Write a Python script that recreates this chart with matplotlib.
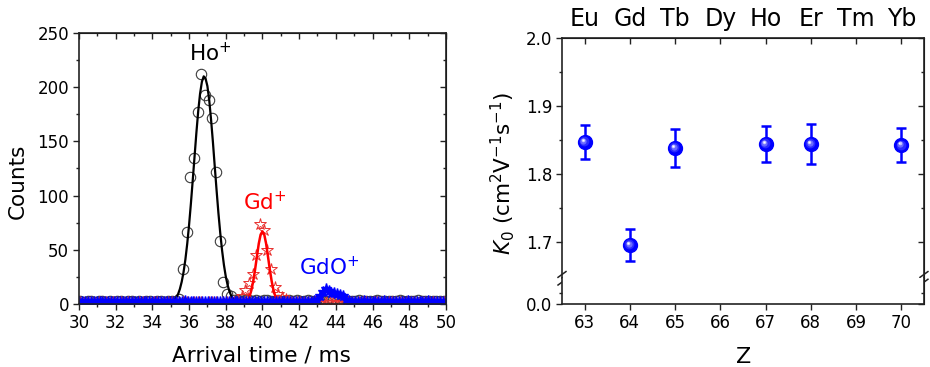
"""
Arrival time distributions (left) and reduced mobilities of lanthanide ions (right).
"""

import numpy as np
import matplotlib
matplotlib.use('Agg')
import matplotlib.pyplot as plt
from matplotlib.ticker import MultipleLocator, FixedLocator, FormatStrFormatter
from matplotlib.transforms import offset_copy

# ---- left panel data: arrival time spectra ----
# time bins of the Ho+ / Gd+ spectra (ms)
t_bins = np.round(30.07 + 0.2 * np.arange(100), 2)
ho_counts = [
    3, 2, 3, 3, 2, 3, 3, 2, 3, 2,
    3, 3, 2, 3, 3, 2, 3, 2, 3, 3,
    2, 3, 3, 2, 3, 3, 3, 5, 32, 66,
    117, 135, 177, 212, 193, 188, 172, 122, 58, 20,
    9, 7, 4, 4, 3, 4, 4, 3, 4, 3,
    4, 4, 3, 3, 4, 3, 3, 4, 3, 4,
    3, 3, 4, 3, 3, 4, 3, 3, 3, 4,
    3, 3, 4, 3, 3, 3, 4, 3, 3, 3,
    3, 4, 3, 3, 3, 3, 3, 4, 3, 3,
    3, 3, 4, 3, 3, 3, 3, 3, 3, 3,
]
gd_counts = [
    2, 1, 2, 2, 1, 2, 2, 2, 1, 2,
    2, 2, 1, 2, 2, 1, 2, 2, 2, 1,
    2, 2, 2, 1, 2, 2, 2, 1, 2, 2,
    1, 2, 2, 2, 1, 2, 2, 2, 1, 2,
    2, 2, 2, 3, 7, 13, 19, 28, 45, 74,
    68, 50, 32, 16, 9, 6, 5, 3, 2, 2,
    2, 1, 2, 2, 2, 1, 2, 2, 2, 2,
    1, 2, 2, 2, 2, 1, 2, 2, 2, 1,
    2, 2, 2, 1, 2, 2, 2, 2, 1, 2,
    2, 2, 1, 2, 2, 2, 2, 1, 2, 2,
]
# GdO+ spectrum has finer bins
t_gdo = np.round(30.0 + 0.16 * np.arange(126), 2)
gdo_counts = [
    2, 2, 2, 2, 2, 2, 2, 2, 2, 2,
    2, 2, 2, 2, 2, 2, 2, 2, 2, 2,
    2, 2, 2, 2, 2, 2, 2, 2, 2, 2,
    2, 2, 2, 2, 2, 2, 3, 2, 2, 2,
    2, 2, 2, 2, 2, 2, 2, 2, 2, 2,
    2, 2, 2, 2, 2, 2, 2, 2, 2, 2,
    2, 2, 2, 2, 2, 2, 2, 2, 2, 2,
    2, 2, 2, 2, 2, 2, 2, 2, 2, 2,
    3, 4, 7, 11, 14, 12, 10, 10, 9, 8,
    7, 4, 3, 2, 2, 2, 2, 3, 2, 2,
    2, 2, 2, 2, 3, 2, 2, 2, 2, 2,
    2, 2, 3, 2, 2, 2, 2, 2, 2, 3,
    2, 2, 2, 2, 2, 2,
]
# gaussian fit curves
ho_fit_t = np.round(np.arange(35.0, 38.75, 0.1), 1)
ho_fit = [1.2, 2.1, 3.5, 5.7, 9.0, 13.8, 20.5, 29.4, 41.0, 55.5,
          72.7, 92.5, 114, 136, 158, 178, 194, 205, 210, 208,
          201, 188, 170, 149.5, 127, 105, 84, 65.5, 49.4, 36.1,
          25.5, 17.6, 11.7, 7.5, 4.7, 2.9, 1.7, 1.0]
gd_fit_t = np.round(np.arange(39.0, 41.05, 0.1), 1)
gd_fit = [0.7, 1.6, 3.5, 7.0, 12.9, 21.3, 32, 44, 55.7, 64,
          67, 64, 55.7, 44, 32, 21.3, 12.9, 7.0, 3.5, 1.6, 0.7]

# ---- right panel data: reduced mobility vs Z ----
z = [63, 64, 65, 67, 68, 70]
k0 = [1.847, 1.695, 1.838, 1.844, 1.844, 1.842]
k0_err = [0.025, 0.024, 0.028, 0.027, 0.030, 0.025]
z_ticks = [63, 64, 65, 66, 67, 68, 69, 70]
elements = ['Eu', 'Gd', 'Tb', 'Dy', 'Ho', 'Er', 'Tm', 'Yb']

spine_color = '#222222'
tick_size = 12


def style_spines(ax):
    for sp in ax.spines.values():
        sp.set_color(spine_color)
        sp.set_linewidth(1.2)


fig = plt.figure(figsize=(9.3, 3.67), dpi=100)

# ================= left panel =================
ax1 = fig.add_axes([0.0849, 0.1717, 0.3946, 0.7384])
ax1.plot(t_bins, ho_counts, 'o', mfc='none', mec='#3c3c3c', ms=7.5, mew=0.8)
ax1.plot(t_bins, gd_counts, '*', mfc='none', mec='#e8312f', ms=9, mew=0.7)
ax1.plot(ho_fit_t, ho_fit, color='k', lw=1.6)
ax1.plot(gd_fit_t, gd_fit, color='#ff0000', lw=1.8)
ax1.plot(t_gdo, gdo_counts, '-*', color='#0000ff', ms=8, lw=1.2)

ax1.set_xlim(30, 50)
ax1.set_ylim(0, 250)
ax1.xaxis.set_major_locator(MultipleLocator(2))
ax1.xaxis.set_minor_locator(MultipleLocator(1))
ax1.yaxis.set_major_locator(MultipleLocator(50))
ax1.yaxis.set_minor_locator(MultipleLocator(25))
ax1.tick_params(which='major', direction='out', length=4, width=1,
                labelsize=tick_size, colors=spine_color, labelcolor='k', pad=3)
ax1.tick_params(which='minor', direction='out', length=2.5, width=1, colors=spine_color)
style_spines(ax1)

# mirrored ticks pointing inwards, Origin style
top1 = ax1.secondary_xaxis('top')
top1.xaxis.set_major_locator(MultipleLocator(2))
top1.xaxis.set_minor_locator(MultipleLocator(1))
top1.tick_params(which='both', direction='in', labeltop=False, width=1, colors=spine_color)
top1.tick_params(which='major', length=4)
top1.tick_params(which='minor', length=2.5)
right1 = ax1.secondary_yaxis('right')
right1.yaxis.set_major_locator(MultipleLocator(50))
right1.yaxis.set_minor_locator(MultipleLocator(25))
right1.tick_params(which='both', direction='in', labelright=False, width=1, colors=spine_color)
right1.tick_params(which='major', length=4)
right1.tick_params(which='minor', length=2.5)

ax1.text(36.0, 224, 'Ho$^{+}$', fontsize=15.5, color='k')
ax1.text(38.95, 87, 'Gd$^{+}$', fontsize=15.5, color='#ff0000')
ax1.text(42.0, 27, 'GdO$^{+}$', fontsize=15.5, color='#0000ff')

fig.text(0.0188, 0.507, 'Counts', rotation=90, fontsize=15.5, ha='center', va='center')
fig.text(0.2806, 0.0144, 'Arrival time / ms', fontsize=15.5, ha='center', va='baseline')

# ================= right panel (broken y axis) =================
ax_top = fig.add_axes([0.6043, 0.2417, 0.3892, 0.6548])
ax_bot = fig.add_axes([0.6043, 0.1717, 0.3892, 0.0700], sharex=ax_top)

ax_top.errorbar(z, k0, yerr=k0_err, fmt='o', color='#0000ff', ms=10,
                elinewidth=1.8, capsize=3.5, capthick=1.8, zorder=3)
# fake sphere shading on the markers
for ms, col, d in [(7, '#2a2aff', 0.5), (4.5, '#6a6aff', 0.9),
                   (2.6, '#c4c4ff', 1.3), (1.2, '#ffffff', 1.5)]:
    tr = offset_copy(ax_top.transData, fig=fig, x=-d, y=d, units='points')
    ax_top.plot(z, k0, 'o', ms=ms, color=col, mec='none', transform=tr, zorder=4)

ax_top.set_xlim(62.5, 70.5)
ax_top.set_ylim(1.646, 2.0)
ax_bot.set_ylim(0, 0.114)

ax_top.spines['bottom'].set_visible(False)
ax_bot.spines['top'].set_visible(False)
style_spines(ax_top)
style_spines(ax_bot)

ax_top.yaxis.set_major_locator(FixedLocator([1.7, 1.8, 1.9, 2.0]))
ax_top.yaxis.set_minor_locator(FixedLocator([1.75, 1.85, 1.95]))
ax_top.yaxis.set_major_formatter(FormatStrFormatter('%.1f'))
ax_bot.yaxis.set_major_locator(FixedLocator([0.0]))
ax_bot.yaxis.set_minor_locator(FixedLocator([0.05]))
ax_bot.yaxis.set_major_formatter(FormatStrFormatter('%.1f'))
ax_bot.set_xticks(z_ticks)

ax_top.tick_params(axis='x', which='both', bottom=False, labelbottom=False)
for a in (ax_top, ax_bot):
    a.tick_params(which='major', direction='out', length=4, width=1,
                  labelsize=tick_size, colors=spine_color, labelcolor='k', pad=3)
    a.tick_params(which='minor', direction='out', length=2.5, width=1, colors=spine_color)
    r = a.secondary_yaxis('right')
    r.yaxis.set_major_locator(FixedLocator(a.yaxis.get_majorticklocs()))
    r.yaxis.set_minor_locator(FixedLocator(a.yaxis.get_minorticklocs()))
    r.tick_params(which='both', direction='in', labelright=False, width=1, colors=spine_color)
    r.tick_params(which='major', length=4)
    r.tick_params(which='minor', length=2.5)

top2 = ax_top.secondary_xaxis('top')
top2.set_xticks(z_ticks, labels=elements)
top2.tick_params(direction='in', length=4, width=1, colors=spine_color,
                 labelcolor='k', labelsize=17, pad=5)

# break marks on both vertical spines
for x0 in (0.0, 1.0):
    for y0 in (0.016, -0.016):
        ax_top.plot([x0 - 0.011, x0 + 0.011], [y0 - 0.012, y0 + 0.012],
                    transform=ax_top.transAxes, color=spine_color, lw=1.1, clip_on=False)

fig.text(0.540, 0.5286, '$K_{\\mathit{0}}$ (cm$^{2}$V$^{-1}$s$^{-1}$)',
         rotation=90, fontsize=15.5, ha='center', va='center')
fig.text(0.800, 0.0109, 'Z', fontsize=16, ha='center', va='baseline')

plt.savefig('out.png', dpi=100)
